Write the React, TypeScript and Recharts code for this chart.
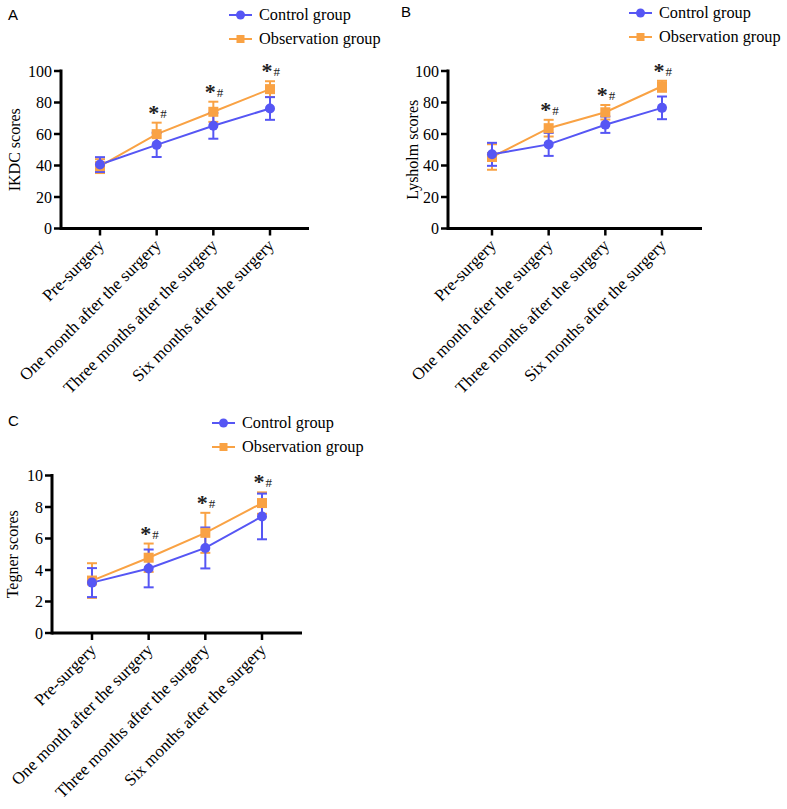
import React from "react";
import {
  ErrorBar,
  Label,
  LabelList,
  Line,
  LineChart,
  XAxis,
  YAxis,
} from "recharts";

const timepoints = [
  "Pre-surgery",
  "One month after the surgery",
  "Three months after the surgery",
  "Six months after the surgery",
];
const significant = [false, true, true, true];

const ikdcControl = [40.6, 53.1, 65.2, 76.2];
const ikdcControlSd = [4.7, 7.7, 8.2, 7.2];
const ikdcObservation = [39.6, 59.9, 74.1, 88.5];
const ikdcObservationSd = [4.4, 7.3, 6.4, 5.0];

const lysholmControl = [47.1, 53.4, 65.9, 76.6];
const lysholmControlSd = [7.3, 7.3, 5.2, 7.2];
const lysholmObservation = [45.4, 63.7, 73.8, 90.3];
const lysholmObservationSd = [8.1, 5.3, 4.6, 3.5];

const tegnerControl = [3.2, 4.1, 5.4, 7.4];
const tegnerControlSd = [0.92, 1.2, 1.3, 1.45];
const tegnerObservation = [3.33, 4.78, 6.36, 8.25];
const tegnerObservationSd = [1.1, 0.9, 1.27, 0.68];

const ticks100 = [0, 20, 40, 60, 80, 100];
const ticks10 = [0, 2, 4, 6, 8, 10];

const BLUE = "#5656f4";
const ORANGE = "#f9a244";
const SERIF = "'Liberation Serif', 'Times New Roman', serif";
const SANS = "'Liberation Sans', Arial, sans-serif";

function buildRows(ctl: number[], ctlSd: number[], obs: number[], obsSd: number[]) {
  return timepoints.map((t, i) => ({
    time: t,
    control: ctl[i],
    controlSd: ctlSd[i],
    observation: obs[i],
    observationSd: obsSd[i],
    top: obs[i] + obsSd[i],
    mark: significant[i] ? "*" : "",
  }));
}

const Square = (props: any) => {
  const { cx, cy } = props;
  if (cx == null || cy == null) return null;
  return <rect x={cx - 5} y={cy - 5} width={10} height={10} fill={ORANGE} />;
};

const Circle = (props: any) => {
  const { cx, cy } = props;
  if (cx == null || cy == null) return null;
  return <circle cx={cx} cy={cy} r={5} fill={BLUE} />;
};

// "*#" over the observation error bar, where the difference is significant
const Mark = (props: any) => {
  const { x, y, value } = props;
  if (!value) return null;
  return (
    <g fontFamily={SERIF} fill="#222">
      <text x={x - 3} y={y - 3} textAnchor="middle" fontSize={22} fontWeight="bold">
        *
      </text>
      <text x={x + 3.5} y={y - 5} fontSize={13}>
        #
      </text>
    </g>
  );
};

const TimeTick = (props: any) => {
  const { x, y, payload } = props;
  const ax = x + 5;
  const ay = y + 9;
  return (
    <text
      x={ax}
      y={ay}
      transform={`rotate(-45 ${ax} ${ay})`}
      textAnchor="end"
      fontFamily={SERIF}
      fontSize={17}
      fill="#000"
    >
      {payload.value}
    </text>
  );
};

function LegendBox({ left, top }: { left: number; top: number }) {
  const row = (color: string, name: string, square: boolean, dy: number) => (
    <div
      style={{
        position: "absolute",
        left: 0,
        top: dy,
        height: 20,
        display: "flex",
        alignItems: "center",
        whiteSpace: "nowrap",
      }}
    >
      <svg width={24} height={20} style={{ marginRight: 6 }}>
        <line x1={0} y1={10} x2={23} y2={10} stroke={color} strokeWidth={2} />
        {square ? (
          <rect x={7.5} y={6} width={8} height={8} fill={color} />
        ) : (
          <circle cx={11.5} cy={10} r={4.5} fill={color} />
        )}
      </svg>
      <span style={{ fontFamily: SERIF, fontSize: 16.3, color: "#000" }}>{name}</span>
    </div>
  );
  return (
    <div style={{ position: "absolute", left, top, width: 170, height: 50 }}>
      {row(BLUE, "Control group", false, 0)}
      {row(ORANGE, "Observation group", true, 24)}
    </div>
  );
}

type PanelProps = {
  letter: string;
  letterPos: [number, number];
  left: number;
  top: number;
  height: number;
  yLabel: string;
  labelX: number;
  rows: any[];
  domain: [number, number];
  ticks: number[];
  marginTop: number;
  marginLeft: number;
  marginRight: number;
  padLeft: number;
  padRight: number;
  legendPos: [number, number];
};

function Panel(p: PanelProps) {
  const plotHeight = 157.5;
  return (
    <>
      <div
        style={{
          position: "absolute",
          left: p.letterPos[0],
          top: p.letterPos[1],
          fontFamily: SANS,
          fontSize: 15,
          lineHeight: "16px",
        }}
      >
        {p.letter}
      </div>
      <LegendBox left={p.legendPos[0]} top={p.legendPos[1]} />
      <div style={{ position: "absolute", left: p.left, top: p.top }}>
        <LineChart
          width={390}
          height={p.height}
          data={p.rows}
          margin={{ top: p.marginTop, left: p.marginLeft, right: p.marginRight, bottom: 2 }}
        >
          <XAxis
            dataKey="time"
            height={p.height - 2 - p.marginTop - plotHeight}
            padding={{ left: p.padLeft, right: p.padRight }}
            axisLine={{ stroke: "#000", strokeWidth: 3 }}
            tickLine={{ stroke: "#000", strokeWidth: 2.5 }}
            tickSize={7}
            interval={0}
            tick={<TimeTick />}
          />
          <YAxis
            width={40}
            domain={p.domain}
            ticks={p.ticks}
            interval={0}
            allowDataOverflow
            axisLine={{ stroke: "#000", strokeWidth: 3, strokeLinecap: "square" }}
            tickLine={{ stroke: "#000", strokeWidth: 2.5 }}
            tickSize={7}
            tickMargin={2}
            tick={{ fill: "#000", fontFamily: SERIF, fontSize: 16 }}
          >
            <Label
              content={(lp: any) => {
                const vb = lp.viewBox || {};
                const cy = vb.y + vb.height / 2;
                return (
                  <text
                    x={p.labelX}
                    y={cy}
                    transform={`rotate(-90 ${p.labelX} ${cy})`}
                    textAnchor="middle"
                    dominantBaseline="central"
                    fontFamily={SERIF}
                    fontSize={16}
                    fill="#000"
                  >
                    {p.yLabel}
                  </text>
                );
              }}
            />
          </YAxis>
          <Line
            dataKey="observation"
            stroke={ORANGE}
            strokeWidth={2}
            dot={<Square />}
            activeDot={false}
            isAnimationActive={false}
          >
            <ErrorBar dataKey="observationSd" stroke={ORANGE} strokeWidth={2} width={5} />
          </Line>
          <Line
            dataKey="control"
            stroke={BLUE}
            strokeWidth={2}
            dot={<Circle />}
            activeDot={false}
            isAnimationActive={false}
          >
            <ErrorBar dataKey="controlSd" stroke={BLUE} strokeWidth={2} width={5} />
          </Line>
          <Line
            dataKey="top"
            stroke="none"
            dot={false}
            activeDot={false}
            legendType="none"
            isAnimationActive={false}
          >
            <LabelList dataKey="mark" content={<Mark />} />
          </Line>
        </LineChart>
      </div>
    </>
  );
}

export default function App() {
  return (
    <div style={{ position: "absolute", left: 0, top: 0, width: 787, height: 809, background: "#fff" }}>
      <Panel
        letter="A"
        letterPos={[8, 7]}
        left={0}
        top={0}
        height={410}
        yLabel="IKDC scores"
        labelX={14}
        rows={buildRows(ikdcControl, ikdcControlSd, ikdcObservation, ikdcObservationSd)}
        domain={[0, 100]}
        ticks={ticks100}
        marginTop={71}
        marginLeft={21}
        marginRight={81}
        padLeft={39}
        padRight={39}
        legendPos={[229, 5]}
      />
      <Panel
        letter="B"
        letterPos={[401, 4]}
        left={400}
        top={0}
        height={410}
        yLabel="Lysholm scores"
        labelX={12}
        rows={buildRows(lysholmControl, lysholmControlSd, lysholmObservation, lysholmObservationSd)}
        domain={[0, 100]}
        ticks={ticks100}
        marginTop={71}
        marginLeft={8}
        marginRight={88}
        padLeft={44}
        padRight={40}
        legendPos={[629, 3]}
      />
      <Panel
        letter="C"
        letterPos={[8, 413]}
        left={0}
        top={400}
        height={409}
        yLabel="Tegner scores"
        labelX={12.5}
        rows={buildRows(tegnerControl, tegnerControlSd, tegnerObservation, tegnerObservationSd)}
        domain={[0, 10]}
        ticks={ticks10}
        marginTop={75.5}
        marginLeft={12}
        marginRight={88}
        padLeft={40}
        padRight={40}
        legendPos={[212, 413]}
      />
    </div>
  );
}
